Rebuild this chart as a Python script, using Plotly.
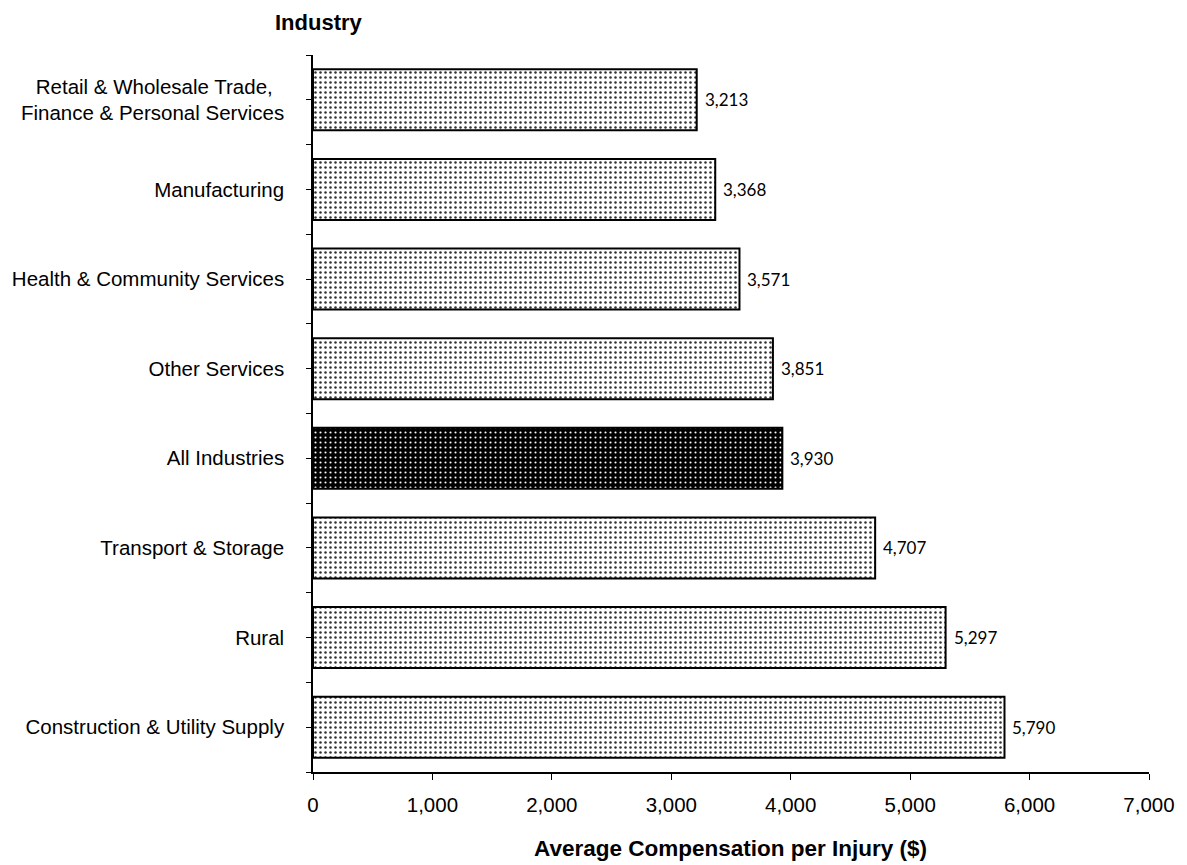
import plotly.graph_objects as go

# Average compensation per injury by industry, listed top to bottom
industries = [
    "Retail & Wholesale Trade,&nbsp;&nbsp;<br>Finance & Personal Services",
    "Manufacturing",
    "Health & Community Services",
    "Other Services",
    "All Industries",
    "Transport & Storage",
    "Rural",
    "Construction & Utility Supply",
]
compensation = [3213, 3368, 3571, 3851, 3930, 4707, 5297, 5790]
highlight = "All Industries"

x_ticks = [0, 1000, 2000, 3000, 4000, 5000, 6000, 7000]

W, H = 1187, 865
ML, MR, MT, MB = 307, 37, 55, 93

rows = list(range(len(industries)))
normal_rows = [i for i, c in enumerate(industries) if c != highlight]
hi_rows = [i for i, c in enumerate(industries) if c == highlight]


def bar_trace(idx, bg, fg, size, solidity):
    return go.Bar(
        x=[compensation[i] for i in idx],
        y=idx,
        orientation="h",
        width=0.68,
        marker=dict(
            color=bg,
            line=dict(color="black", width=2),
            pattern=dict(
                shape=".",
                bgcolor=bg,
                fgcolor=fg,
                size=size,
                solidity=solidity,
                fillmode="replace",
            ),
        ),
        hoverinfo="skip",
    )


fig = go.Figure()
fig.add_trace(bar_trace(normal_rows, "white", "#333333", 5, 0.2))
fig.add_trace(bar_trace(hi_rows, "black", "white", 5, 0.14))

# value labels just past the end of each bar
annotations = [
    dict(
        x=v, y=i, xref="x", yref="y",
        text=f"{v:,}", showarrow=False,
        xanchor="left", yanchor="middle", xshift=6,
        font=dict(family="Lato", size=17, color="black"),
    )
    for i, v in zip(rows, compensation)
]


def px_to_paper(px, py):
    return (px - ML) / (W - ML - MR), 1 - (py - MT) / (H - MT - MB)


ix, iy = px_to_paper(267, 22)
annotations.append(dict(
    text="<b>Industry</b>", x=ix, y=iy, xref="paper", yref="paper",
    xanchor="left", yanchor="middle", showarrow=False,
    font=dict(size=22),
))
tx, ty = px_to_paper(728, 848)
annotations.append(dict(
    text="<b>Average Compensation per Injury ($)</b>", x=tx, y=ty,
    xref="paper", yref="paper", xanchor="center", yanchor="middle",
    showarrow=False, font=dict(size=22.5),
))

fig.update_layout(
    width=W,
    height=H,
    margin=dict(l=ML, r=MR, t=MT, b=MB),
    paper_bgcolor="white",
    plot_bgcolor="white",
    showlegend=False,
    barmode="overlay",
    font=dict(family="Liberation Sans, Arial", size=20.5, color="black"),
    xaxis=dict(
        range=[0, 7000],
        tickvals=x_ticks,
        ticktext=[f"{v:,}" for v in x_ticks],
        showgrid=False,
        zeroline=False,
        showline=True,
        linecolor="black",
        linewidth=1.5,
        ticks="outside",
        ticklen=6,
        tickcolor="black",
        ticklabelstandoff=8,
    ),
    yaxis=dict(
        range=[len(industries) - 0.5, -0.5],
        tickvals=rows,
        ticktext=industries,
        showgrid=False,
        zeroline=False,
        showline=True,
        linecolor="black",
        linewidth=1.5,
        ticks="outside",
        ticklen=5,
        tickcolor="black",
        ticklabelstandoff=18,
        minor=dict(
            tickvals=[r - 0.5 for r in rows] + [len(industries) - 0.5],
            ticks="outside",
            ticklen=5,
            tickcolor="black",
            showgrid=False,
        ),
    ),
    annotations=annotations,
)

fig.write_html("out.html")
